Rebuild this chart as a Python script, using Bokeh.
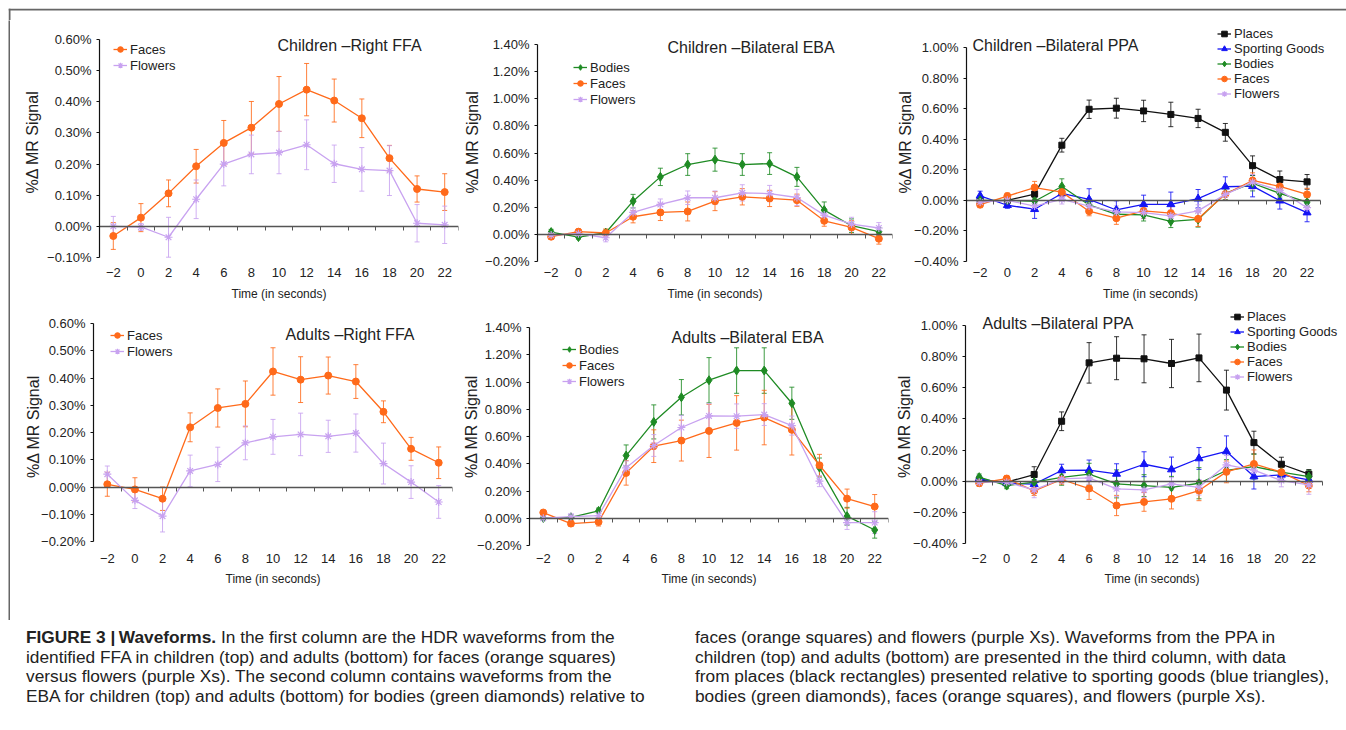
from bokeh.plotting import figure
from bokeh.models import (Range1d, LinearAxis, FixedTicker, CustomJSTickFormatter, Whisker,
                          TeeHead, ColumnDataSource, Legend, LegendItem, Label, Div, Spacer,
                          BoxAnnotation)
from bokeh.layouts import row, column
from bokeh.embed import file_html
from bokeh.resources import INLINE

# ---------------- data (percent signal change) ----------------
time = [-2, 0, 2, 4, 6, 8, 10, 12, 14, 16, 18, 20, 22]

child_ffa_faces = [-0.031, 0.028, 0.106, 0.193, 0.268, 0.317, 0.393, 0.439, 0.404, 0.347, 0.219, 0.120, 0.110]
child_ffa_faces_err = [0.043, 0.045, 0.043, 0.054, 0.072, 0.084, 0.088, 0.084, 0.069, 0.062, 0.041, 0.042, 0.059]
child_ffa_flowers = [0.000, -0.002, -0.035, 0.087, 0.200, 0.231, 0.237, 0.262, 0.201, 0.183, 0.179, 0.010, 0.005]
child_ffa_flowers_err = [0.032, 0.011, 0.064, 0.062, 0.070, 0.062, 0.068, 0.080, 0.060, 0.070, 0.080, 0.060, 0.060]

child_eba_bodies = [0.017, -0.020, 0.012, 0.245, 0.424, 0.515, 0.551, 0.515, 0.522, 0.424, 0.179, 0.064, 0.020]
child_eba_bodies_err = [0.020, 0.015, 0.020, 0.050, 0.064, 0.080, 0.085, 0.080, 0.080, 0.070, 0.060, 0.050, 0.030]
child_eba_faces = [-0.017, 0.020, 0.010, 0.130, 0.162, 0.169, 0.245, 0.277, 0.265, 0.252, 0.100, 0.051, -0.032]
child_eba_faces_err = [0.020, 0.020, 0.030, 0.045, 0.060, 0.070, 0.070, 0.060, 0.060, 0.045, 0.040, 0.050, 0.040]
child_eba_flowers = [-0.005, 0.005, -0.025, 0.162, 0.221, 0.270, 0.270, 0.306, 0.301, 0.272, 0.142, 0.076, 0.047]
child_eba_flowers_err = [0.020, 0.015, 0.030, 0.035, 0.040, 0.050, 0.050, 0.060, 0.060, 0.060, 0.045, 0.050, 0.040]

child_ppa_places = [-0.005, 0.000, 0.041, 0.361, 0.596, 0.603, 0.585, 0.562, 0.536, 0.445, 0.227, 0.136, 0.121]
child_ppa_places_err = [0.020, 0.015, 0.020, 0.045, 0.060, 0.065, 0.070, 0.080, 0.060, 0.058, 0.064, 0.056, 0.048]
child_ppa_sporting = [0.030, -0.032, -0.058, 0.045, 0.006, -0.063, -0.026, -0.026, 0.011, 0.089, 0.093, -0.002, -0.080]
child_ppa_sporting_err = [0.030, 0.020, 0.060, 0.030, 0.070, 0.060, 0.060, 0.080, 0.060, 0.065, 0.070, 0.055, 0.060]
child_ppa_bodies = [0.000, 0.000, -0.006, 0.091, -0.030, -0.091, -0.095, -0.138, -0.125, 0.045, 0.112, 0.045, -0.011]
child_ppa_bodies_err = [0.015, 0.015, 0.020, 0.050, 0.040, 0.040, 0.040, 0.040, 0.050, 0.040, 0.050, 0.030, 0.030]
child_ppa_faces = [-0.028, 0.028, 0.084, 0.054, -0.071, -0.117, -0.069, -0.084, -0.121, 0.041, 0.130, 0.091, 0.039]
child_ppa_faces_err = [0.020, 0.020, 0.040, 0.030, 0.030, 0.040, 0.050, 0.050, 0.050, 0.040, 0.050, 0.040, 0.040]
child_ppa_flowers = [-0.011, 0.000, -0.037, 0.006, -0.037, -0.076, -0.080, -0.102, -0.069, 0.039, 0.119, 0.065, -0.048]
child_ppa_flowers_err = [0.020, 0.020, 0.030, 0.030, 0.030, 0.040, 0.040, 0.040, 0.040, 0.040, 0.050, 0.040, 0.040]

adult_ffa_faces = [0.010, -0.009, -0.043, 0.219, 0.290, 0.305, 0.424, 0.394, 0.409, 0.387, 0.276, 0.140, 0.089]
adult_ffa_faces_err = [0.044, 0.043, 0.043, 0.053, 0.070, 0.084, 0.087, 0.084, 0.068, 0.062, 0.040, 0.042, 0.058]
adult_ffa_flowers = [0.047, -0.049, -0.107, 0.059, 0.083, 0.162, 0.184, 0.193, 0.186, 0.198, 0.086, 0.018, -0.055]
adult_ffa_flowers_err = [0.030, 0.030, 0.058, 0.058, 0.063, 0.062, 0.064, 0.078, 0.059, 0.070, 0.075, 0.060, 0.060]

adult_eba_bodies = [0.002, 0.007, 0.054, 0.460, 0.707, 0.888, 1.013, 1.084, 1.084, 0.844, 0.372, 0.015, -0.086]
adult_eba_bodies_err = [0.015, 0.020, 0.020, 0.078, 0.125, 0.130, 0.166, 0.167, 0.167, 0.118, 0.070, 0.065, 0.060]
adult_eba_faces = [0.042, -0.039, -0.027, 0.333, 0.529, 0.570, 0.641, 0.700, 0.739, 0.649, 0.389, 0.144, 0.086]
adult_eba_faces_err = [0.015, 0.020, 0.030, 0.090, 0.120, 0.150, 0.195, 0.200, 0.200, 0.185, 0.080, 0.070, 0.088]
adult_eba_flowers = [0.000, 0.012, 0.020, 0.370, 0.534, 0.666, 0.751, 0.749, 0.761, 0.680, 0.272, -0.032, -0.032]
adult_eba_flowers_err = [0.015, 0.020, 0.020, 0.050, 0.080, 0.090, 0.090, 0.090, 0.080, 0.070, 0.040, 0.050, 0.080]

adult_ppa_places = [0.005, -0.006, 0.043, 0.385, 0.760, 0.790, 0.786, 0.756, 0.792, 0.585, 0.248, 0.109, 0.045]
adult_ppa_places_err = [0.020, 0.020, 0.050, 0.060, 0.130, 0.138, 0.154, 0.155, 0.153, 0.128, 0.073, 0.045, 0.030]
adult_ppa_sporting = [0.015, -0.013, -0.019, 0.069, 0.071, 0.047, 0.109, 0.075, 0.146, 0.191, 0.030, 0.041, 0.009]
adult_ppa_sporting_err = [0.020, 0.020, 0.030, 0.040, 0.065, 0.065, 0.080, 0.080, 0.070, 0.100, 0.080, 0.030, 0.020]
adult_ppa_bodies = [0.026, -0.028, -0.006, 0.024, 0.045, -0.017, -0.028, -0.039, -0.013, 0.069, 0.094, 0.058, 0.030]
adult_ppa_bodies_err = [0.020, 0.020, 0.030, 0.050, 0.070, 0.090, 0.070, 0.070, 0.100, 0.070, 0.080, 0.040, 0.040]
adult_ppa_faces = [-0.013, 0.017, -0.062, 0.011, -0.047, -0.156, -0.133, -0.113, -0.060, 0.060, 0.111, 0.058, -0.028]
adult_ppa_faces_err = [0.020, 0.020, 0.030, 0.030, 0.070, 0.065, 0.060, 0.065, 0.065, 0.070, 0.090, 0.030, 0.040]
adult_ppa_flowers = [-0.006, -0.006, -0.056, 0.015, 0.021, -0.049, -0.056, -0.017, -0.039, 0.105, 0.071, 0.004, -0.024]
adult_ppa_flowers_err = [0.020, 0.020, 0.050, 0.030, 0.040, 0.050, 0.050, 0.040, 0.050, 0.060, 0.050, 0.040, 0.060]

# ---------------- styles ----------------
FONT = "Liberation Sans"
TXT = "#222222"
ORANGE = "#FF6A1A"
PURPLE = "#C8A2F0"
GREEN = "#1F8B24"
BLUE = "#1515F5"
BLACK = "#111111"
RULE = "#666666"

STYLE = {
    "Places": (BLACK, "square", 6),
    "Sporting Goods": (BLUE, "triangle", 8),
    "Bodies": (GREEN, "diamond", 9),
    "Faces": (ORANGE, "circle", 7),
    "Flowers": (PURPLE, "asterisk", 8),
}

FW = 359                 # width (px) covering x from -3 to 23
PX_PER_UNIT = FW / 26.0
y_fmt = CustomJSTickFormatter(code="return (tick < -1e-9 ? '\\u2212' : '') + Math.abs(tick).toFixed(2) + '%';")
x_fmt = CustomJSTickFormatter(code="return (tick < 0 ? '\\u2212' : '') + Math.abs(tick);")
blank_fmt = CustomJSTickFormatter(code="return '';")
bounds_ticks = [t - 1 for t in time] + [time[-1] + 1]


def panel(series, yticks, fh, top_off, bot_off, mb, title, title_pos, leg_loc, leg_h,
          ylab_standoff, xlab_standoff, xtitle_standoff, extra_right=0):
    vbot, vtop = yticks[0], yticks[-1]
    scale = (fh - top_off - bot_off) / (vtop - vbot)
    y_end = vtop + top_off / scale
    y_start = vbot - bot_off / scale
    fw = FW + extra_right
    p = figure(width=mb[0] + fw + mb[1], height=mb[2] + fh + mb[3],
               x_range=Range1d(-3, 23 + extra_right / PX_PER_UNIT),
               y_range=Range1d(y_start, y_end),
               min_border_left=mb[0], min_border_right=mb[1],
               min_border_top=mb[2], min_border_bottom=mb[3],
               x_axis_type=None, y_axis_type=None,
               output_backend="svg", toolbar_location=None)
    p.outline_line_color = None

    yax = LinearAxis(ticker=FixedTicker(ticks=yticks), formatter=y_fmt, bounds=(vbot, vtop),
                     axis_label="%\u0394 MR Signal",
                     axis_line_color="#111111", axis_line_width=1.2,
                     major_tick_line_color="#111111", major_tick_in=0, major_tick_out=3,
                     minor_tick_line_color=None,
                     major_label_standoff=5,
                     major_label_text_font=FONT, major_label_text_font_size="13px",
                     major_label_text_color=TXT,
                     axis_label_text_font=FONT, axis_label_text_font_size="16px",
                     axis_label_text_font_style="normal", axis_label_text_color=TXT,
                     axis_label_standoff=ylab_standoff)
    p.add_layout(yax, "left")

    xax = LinearAxis(ticker=FixedTicker(ticks=time), formatter=x_fmt,
                     axis_label="Time (in seconds)",
                     axis_line_color=None, major_tick_line_color=None,
                     major_tick_in=0, major_tick_out=0, minor_tick_line_color=None,
                     major_label_standoff=xlab_standoff,
                     major_label_text_font=FONT, major_label_text_font_size="13px",
                     major_label_text_color=TXT,
                     axis_label_text_font=FONT, axis_label_text_font_size="12px",
                     axis_label_text_font_style="normal", axis_label_text_color=TXT,
                     axis_label_standoff=xtitle_standoff)
    p.add_layout(xax, "below")

    zax = LinearAxis(fixed_location=0, ticker=FixedTicker(ticks=bounds_ticks),
                     formatter=blank_fmt, bounds=(-3, 23),
                     axis_line_color="#555555", axis_line_width=1.3,
                     major_tick_line_color="#555555", major_tick_in=0, major_tick_out=4,
                     minor_tick_line_color=None, major_label_text_font_size="0px")
    p.add_layout(zax, "below")

    items = []
    for name, ys, errs in series:
        c, m, sz = STYLE[name]
        src = ColumnDataSource(dict(x=time, y=ys,
                                    lo=[a - b for a, b in zip(ys, errs)],
                                    hi=[a + b for a, b in zip(ys, errs)]))
        w = Whisker(source=src, base="x", lower="lo", upper="hi",
                    line_color=c, line_width=1, line_alpha=0.85,
                    upper_head=TeeHead(size=5, line_color=c, line_width=1, line_alpha=0.85),
                    lower_head=TeeHead(size=5, line_color=c, line_width=1, line_alpha=0.85))
        p.add_layout(w)
        ln = p.line("x", "y", source=src, line_color=c, line_width=1.3)
        if m == "asterisk":
            sc = p.scatter("x", "y", source=src, marker=m, size=sz, line_color=c, line_width=1.2)
        else:
            sc = p.scatter("x", "y", source=src, marker=m, size=sz, fill_color=c, line_color=c)
        items.append(LegendItem(label=name, renderers=[ln, sc]))

    leg = Legend(items=items, location=leg_loc, orientation="vertical",
                 glyph_width=14, glyph_height=leg_h, label_height=leg_h, spacing=0,
                 padding=0, margin=0, label_standoff=3,
                 border_line_color=None, background_fill_alpha=0,
                 label_text_font=FONT, label_text_font_size="13px", label_text_color=TXT)
    p.add_layout(leg)

    p.add_layout(Label(x=title_pos[0], y=title_pos[1], x_units="screen", y_units="screen",
                       text=title, text_font=FONT, text_font_size="16px",
                       text_color=TXT, text_baseline="middle", text_align="left"))
    return p


ffa_ticks = [-0.1, 0.0, 0.1, 0.2, 0.3, 0.4, 0.5, 0.6]
ffa_ticks_ad = [-0.2, -0.1, 0.0, 0.1, 0.2, 0.3, 0.4, 0.5, 0.6]
eba_ticks = [-0.2, 0.0, 0.2, 0.4, 0.6, 0.8, 1.0, 1.2, 1.4]
ppa_ticks = [-0.4, -0.2, 0.0, 0.2, 0.4, 0.6, 0.8, 1.0]

p1 = panel([("Faces", child_ffa_faces, child_ffa_faces_err),
            ("Flowers", child_ffa_flowers, child_ffa_flowers_err)],
           ffa_ticks, 239, 17, 4, (89, 3, 2, 44), "Children \u2013Right FFA", (178, 216),
           (14, 188), 16, 3, 6, 7)
p2 = panel([("Bodies", child_eba_bodies, child_eba_bodies_err),
            ("Faces", child_eba_faces, child_eba_faces_err),
            ("Flowers", child_eba_flowers, child_eba_flowers_err)],
           eba_ticks, 239, 22, 0, (72, 2, 2, 44), "Children \u2013Bilateral EBA", (130, 214),
           (36, 154), 16, 1, 6, 7)
p3 = panel([("Places", child_ppa_places, child_ppa_places_err),
            ("Sporting Goods", child_ppa_sporting, child_ppa_sporting_err),
            ("Bodies", child_ppa_bodies, child_ppa_bodies_err),
            ("Faces", child_ppa_faces, child_ppa_faces_err),
            ("Flowers", child_ppa_flowers, child_ppa_flowers_err)],
           ppa_ticks, 239, 25, 0, (67, 0, 2, 44), "Children \u2013Bilateral PPA", (6, 216),
           (251, 160), 15, -3, 6, 7, extra_right=14)
p4 = panel([("Faces", adult_ffa_faces, adult_ffa_faces_err),
            ("Flowers", adult_ffa_flowers, adult_ffa_flowers_err)],
           ffa_ticks_ad, 238, 16, 4, (83, 5, 2, 47), "Adults \u2013Right FFA", (192, 211),
           (17, 186), 16, -4, 8, 6)
p5 = panel([("Bodies", adult_eba_bodies, adult_eba_bodies_err),
            ("Faces", adult_eba_faces, adult_eba_faces_err),
            ("Flowers", adult_eba_flowers, adult_eba_flowers_err)],
           eba_ticks, 238, 20, 0, (72, 5, 2, 47), "Adults \u2013Bilateral EBA", (142, 208),
           (33, 156), 16, -6, 8, 6)
p6 = panel([("Places", adult_ppa_places, adult_ppa_places_err),
            ("Sporting Goods", adult_ppa_sporting, adult_ppa_sporting_err),
            ("Bodies", adult_ppa_bodies, adult_ppa_bodies_err),
            ("Faces", adult_ppa_faces, adult_ppa_faces_err),
            ("Flowers", adult_ppa_flowers, adult_ppa_flowers_err)],
           ppa_ticks, 238, 18, 2, (70, 0, 2, 47), "Adults \u2013Bilateral PPA", (17, 222),
           (265, 161), 15, -3, 8, 6, extra_right=16)

cap_style = ("font-family:'Liberation Sans',Arial,sans-serif;font-size:17.3px;line-height:19.5px;"
             "color:#222;white-space:nowrap;padding-top:36px;")
cap_left = Div(width=685, height=124, margin=0, text=(
    "<div style=\"" + cap_style + "padding-left:16px;\">"
    "<b>FIGURE 3 |\u2009Waveforms.</b> In the first column are the HDR waveforms from the<br>"
    "identified FFA in children (top) and adults (bottom) for faces (orange squares)<br>"
    "versus flowers (purple Xs). The second column contains waveforms from the<br>"
    "EBA for children (top) and adults (bottom) for bodies (green diamonds) relative to"
    "</div>"))
cap_right = Div(width=643, height=124, margin=0, text=(
    "<div style=\"" + cap_style + "\">"
    "faces (orange squares) and flowers (purple Xs). Waveforms from the PPA in<br>"
    "children (top) and adults (bottom) are presented in the third column, with data<br>"
    "from places (black rectangles) presented relative to sporting goods (blue triangles),<br>"
    "bodies (green diamonds), faces (orange squares), and flowers (purple Xs)."
    "</div>"))

# header strip: top rule of the frame plus the first piece of the left rule
HDR_W, HDR_H = 1338, 12
header = figure(width=HDR_W, height=HDR_H, min_border=0,
                x_range=Range1d(0, HDR_W), y_range=Range1d(0, HDR_H),
                x_axis_type=None, y_axis_type=None,
                output_backend="svg", toolbar_location=None)
header.outline_line_color = None
header.add_layout(BoxAnnotation(left=0, right=HDR_W, bottom=HDR_H - 2, top=HDR_H,
                                fill_color=RULE, fill_alpha=1, line_color=None))
header.add_layout(BoxAnnotation(left=0, right=2, bottom=0, top=HDR_H,
                                fill_color=RULE, fill_alpha=1, line_color=None))

left_line = figure(width=2, height=600, min_border=0, x_axis_type=None, y_axis_type=None,
                   output_backend="svg", toolbar_location=None)
left_line.outline_line_color = None
left_line.background_fill_color = RULE
left_line.border_fill_color = RULE

body = column(row(p1, p2, p3), row(p4, p5, p6), row(cap_left, cap_right))
framed = column(header, row(left_line, body))
layout = row(Spacer(width=8, height=8), column(Spacer(width=8, height=8), framed))

open("out.html", "w", encoding="utf-8").write(file_html(layout, INLINE))
